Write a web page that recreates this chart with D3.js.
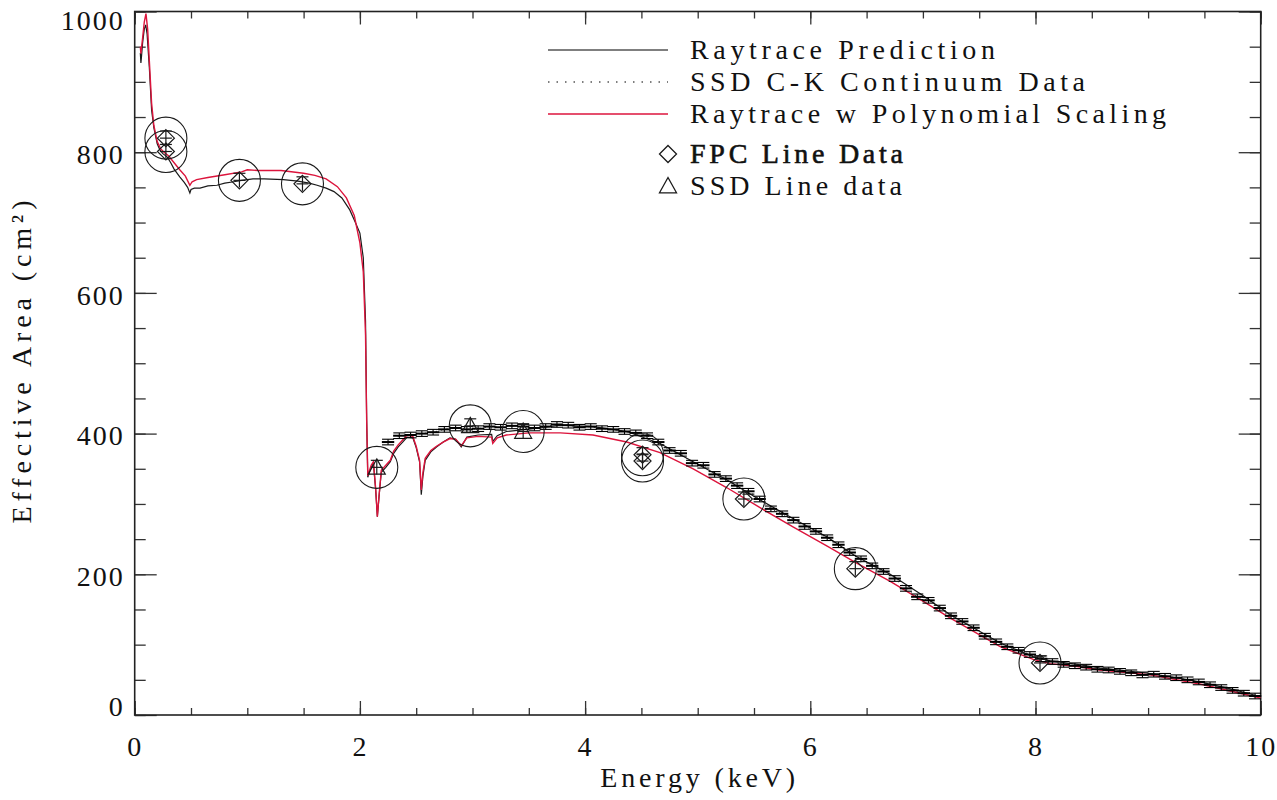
<!DOCTYPE html>
<html>
<head>
<meta charset="utf-8">
<script src="https://cdn.jsdelivr.net/npm/d3@7"></script>
<style>
  body { margin: 0; background: #fff; }
  svg { display: block; }
</style>
</head>
<body>
<div id="chart"></div>
<script>
/* Raytrace prediction (energy keV, effective area cm^2) */
const rayE = [0.05, 0.055, 0.06, 0.07, 0.085, 0.098, 0.11, 0.13, 0.15, 0.17, 0.2, 0.225, 0.25, 0.29, 0.32, 0.35, 0.4, 0.44, 0.47, 0.49,
  0.5, 0.53, 0.58, 0.65, 0.73, 0.8, 0.88, 0.95, 1.05, 1.15, 1.32, 1.45, 1.55, 1.62, 1.7, 1.77, 1.84, 1.91, 1.96, 2.0,
  2.03, 2.05, 2.06, 2.07, 2.1, 2.12, 2.14, 2.155, 2.17, 2.19, 2.23, 2.27, 2.3, 2.34, 2.38, 2.42, 2.47, 2.5, 2.53, 2.545,
  2.56, 2.58, 2.63, 2.68, 2.74, 2.8, 2.85, 2.9, 2.95, 3.05, 3.17, 3.18, 3.22, 3.3, 3.48, 3.6, 3.78, 4.07, 4.37, 4.665,
  4.96, 5.26, 5.55, 5.85, 6.15, 6.4, 6.71, 7.0, 7.24, 7.69, 7.98, 8.13, 8.37, 8.57, 9.02, 9.46, 9.76, 10.0];
const rayA = [941, 927, 935, 955, 975, 981, 968, 920, 860, 835, 812, 803, 798, 793, 785, 776, 765, 757, 750, 742,
  747, 749, 749, 752, 753, 756, 758, 760, 762, 762, 761, 759, 756, 753, 749, 744, 735, 718, 700, 685,
  650, 560, 420, 338, 352, 358, 320, 282, 310, 345, 352, 360, 372, 381, 388, 395, 394, 380, 360, 313,
  340, 362, 374, 381, 388, 394, 392, 381, 395, 398, 399, 389, 397, 403, 406, 408, 412, 410, 403, 386,
  360, 334, 306, 279, 253, 226, 200, 170, 143, 102, 83, 77, 72, 67, 59, 47, 36, 26];

/* Raytrace with polynomial scaling */
const polyE = [0.05, 0.055, 0.06, 0.07, 0.085, 0.1, 0.115, 0.13, 0.15, 0.17, 0.2, 0.23, 0.26, 0.3, 0.35, 0.4, 0.45, 0.49, 0.51, 0.55,
  0.65, 0.8, 0.95, 1.0, 1.1, 1.3, 1.5, 1.6, 1.7, 1.8, 1.88, 1.95, 2.0, 2.03, 2.05, 2.06, 2.07, 2.1, 2.12, 2.14,
  2.155, 2.17, 2.19, 2.23, 2.27, 2.3, 2.34, 2.38, 2.42, 2.47, 2.5, 2.53, 2.545, 2.56, 2.58, 2.63, 2.68, 2.74, 2.8, 2.85,
  2.9, 2.95, 3.05, 3.17, 3.18, 3.22, 3.3, 3.5, 3.78, 4.07, 4.37, 4.665, 4.96, 5.26, 5.55, 5.85, 6.15, 6.4, 6.71, 7.0,
  7.24, 7.69, 7.98, 8.13, 8.37, 8.57, 9.02, 9.46, 9.76, 10.0];
const polyA = [950, 940, 948, 962, 985, 997, 975, 930, 870, 838, 815, 805, 800, 795, 785, 775, 766, 753, 758, 761,
  764, 768, 772, 775, 774, 774, 770, 767, 762, 751, 735, 710, 671, 630, 540, 420, 340, 355, 360, 322,
  282, 312, 348, 355, 362, 375, 384, 391, 398, 396, 382, 362, 320, 345, 365, 376, 382, 388, 393, 392,
  383, 394, 396, 395, 386, 394, 398, 401, 401, 398, 388, 373, 350, 323, 295, 267, 240, 217, 190, 162,
  138, 97, 79, 73, 69, 64, 57, 44, 33, 24];

/* SSD C-K continuum data: bin centres and values */
const contE = [2.25, 2.35, 2.45, 2.55, 2.65, 2.75, 2.85, 2.95, 3.05, 3.15, 3.25, 3.35, 3.45, 3.55, 3.65, 3.75, 3.85, 3.95, 4.05, 4.15,
  4.25, 4.35, 4.45, 4.55, 4.65, 4.75, 4.85, 4.95, 5.05, 5.15, 5.25, 5.35, 5.45, 5.55, 5.65, 5.75, 5.85, 5.95, 6.05, 6.15,
  6.25, 6.35, 6.45, 6.55, 6.65, 6.75, 6.85, 6.95, 7.05, 7.15, 7.25, 7.35, 7.45, 7.55, 7.65, 7.75, 7.85, 7.95, 8.05, 8.15,
  8.25, 8.35, 8.45, 8.55, 8.65, 8.75, 8.85, 8.95, 9.05, 9.15, 9.25, 9.35, 9.45, 9.55, 9.65, 9.75, 9.85, 9.95];
const contA = [388, 397, 398, 400, 402, 406, 408, 406, 407, 410, 409, 411, 410, 408, 410, 413, 412, 409, 410, 407,
  406, 403, 401, 397, 388, 376, 372, 358, 355, 342, 336, 326, 318, 307, 293, 286, 277, 268, 261, 252,
  242, 231, 222, 212, 204, 194, 180, 168, 163, 152, 141, 133, 124, 112, 104, 97, 92, 86, 80, 76,
  72, 70, 68, 65, 64, 62, 60, 57, 58, 55, 53, 50, 47, 43, 39, 35, 31, 27];

/* FPC and SSD line measurements */
const fpcE = [0.277, 0.277, 0.93, 1.49, 4.51, 4.51, 5.41, 6.40, 8.04];
const fpcA = [820, 801, 760, 755, 370, 361, 307, 208, 74];
const ssdE = [2.15, 2.98, 3.45];
const ssdA = [352, 411, 403];

/* Axis ticks */
const xMajor = [0, 2, 4, 6, 8, 10];
const xMinor = d3.range(0, 10.01, 0.5);
const yMajor = [0, 200, 400, 600, 800, 1000];
const yMinor = d3.range(0, 1001, 50);

/* Legend entries */
const legendLines = ["Raytrace Prediction", "SSD C-K Continuum Data", "Raytrace w Polynomial Scaling"];
const legendSymbols = ["FPC Line Data", "SSD Line data"];

const width = 1277, height = 800;
const plot = { left: 134.7, right: 1260.7, top: 11.5, bottom: 715 };
const font = "'Liberation Serif', 'DejaVu Serif', serif";
const red = "#dc143c", ink = "#1a1a1a";

const svg = d3.select("#chart").append("svg")
  .attr("width", width).attr("height", height)
  .attr("viewBox", [0, 0, width, height]);

const x = d3.scaleLinear().domain([0, 10]).range([plot.left, plot.right]);
const y = d3.scaleLinear().domain([0, 1000]).range([plot.bottom, plot.top]);

/* Axes: IDL style ticks pointing inward on all four sides */
const styleAxis = g => {
  g.select(".domain").remove();
  g.selectAll(".tick line").attr("stroke", "#333").attr("stroke-width", 1.3);
  g.selectAll("text").attr("font-family", font).attr("font-size", 28)
    .attr("letter-spacing", 2).attr("fill", "#111");
};

svg.append("g").attr("transform", `translate(0,${plot.bottom})`)
  .call(d3.axisBottom(x).tickValues(xMinor).tickSize(-7).tickFormat(""))
  .call(styleAxis);
svg.append("g").attr("transform", `translate(0,${plot.bottom})`)
  .call(d3.axisBottom(x).tickValues(xMajor).tickSize(-14).tickPadding(21).tickFormat(d3.format("d")))
  .call(styleAxis);
svg.append("g").attr("transform", `translate(0,${plot.top})`)
  .call(d3.axisTop(x).tickValues(xMinor).tickSize(-7).tickFormat(""))
  .call(styleAxis);
svg.append("g").attr("transform", `translate(0,${plot.top})`)
  .call(d3.axisTop(x).tickValues(xMajor).tickSize(-13).tickFormat(""))
  .call(styleAxis);

svg.append("g").attr("transform", `translate(${plot.left},0)`)
  .call(d3.axisLeft(y).tickValues(yMinor).tickSize(-11).tickFormat(""))
  .call(styleAxis);
const yAxis = svg.append("g").attr("transform", `translate(${plot.left},0)`)
  .call(d3.axisLeft(y).tickValues(yMajor).tickSize(-22).tickPadding(10).tickFormat(d3.format("d")))
  .call(styleAxis);
/* end labels are pulled inside the frame as in the original */
yAxis.selectAll(".tick text").attr("dy", d => d === 0 ? "0.02em" : d === 1000 ? "0.66em" : "0.4em");

svg.append("g").attr("transform", `translate(${plot.right},0)`)
  .call(d3.axisRight(y).tickValues(yMinor).tickSize(-11).tickFormat(""))
  .call(styleAxis);
svg.append("g").attr("transform", `translate(${plot.right},0)`)
  .call(d3.axisRight(y).tickValues(yMajor).tickSize(-22).tickFormat(""))
  .call(styleAxis);

/* Frame */
svg.append("rect")
  .attr("x", plot.left).attr("y", plot.top)
  .attr("width", plot.right - plot.left).attr("height", plot.bottom - plot.top)
  .attr("fill", "none").attr("stroke", "#222").attr("stroke-width", 1.6);

/* Axis titles */
svg.append("text")
  .attr("x", (plot.left + plot.right) / 2).attr("y", 787)
  .attr("text-anchor", "middle")
  .attr("font-family", font).attr("font-size", 28).attr("fill", "#111")
  .attr("textLength", 195).attr("lengthAdjust", "spacing")
  .text("Energy (keV)");

svg.append("text")
  .attr("transform", "translate(31,362) rotate(-90)")
  .attr("text-anchor", "middle")
  .attr("font-family", font).attr("font-size", 28).attr("fill", "#111")
  .attr("textLength", 323).attr("lengthAdjust", "spacing")
  .text("Effective Area  (cm²)");

/* Curves */
const line = d3.line().x(d => x(d[0])).y(d => y(d[1]));
const plotArea = svg.append("g");

const contPts = d3.zip(contE, contA);
plotArea.append("path")
  .attr("d", line(contPts))
  .attr("fill", "none").attr("stroke", "#444").attr("stroke-width", 1)
  .attr("stroke-dasharray", "1.5,4");

plotArea.append("path")
  .attr("d", line(d3.zip(rayE, rayA)))
  .attr("fill", "none").attr("stroke", ink).attr("stroke-width", 1.2);

plotArea.append("path")
  .attr("d", line(d3.zip(polyE, polyA)))
  .attr("fill", "none").attr("stroke", red).attr("stroke-width", 1.4);

/* Continuum error bars: bin width bar plus short vertical error with wide caps */
const binHalf = 0.055, contErr = 4, cap = 6;
const bars = plotArea.append("g").attr("stroke", "#000");
bars.selectAll("g").data(contPts).join("g").each(function (d) {
  const g = d3.select(this);
  const cx = x(d[0]), cy = y(d[1]);
  g.append("line").attr("x1", x(d[0] - binHalf)).attr("x2", x(d[0] + binHalf)).attr("y1", cy).attr("y2", cy)
    .attr("stroke-width", 2);
  g.append("line").attr("x1", cx).attr("x2", cx).attr("y1", y(d[1] + contErr)).attr("y2", y(d[1] - contErr))
    .attr("stroke-width", 1.1);
  g.append("line").attr("x1", cx - cap).attr("x2", cx + cap).attr("y1", y(d[1] + contErr)).attr("y2", y(d[1] + contErr))
    .attr("stroke-width", 1.1);
  g.append("line").attr("x1", cx - cap).attr("x2", cx + cap).attr("y1", y(d[1] - contErr)).attr("y2", y(d[1] - contErr))
    .attr("stroke-width", 1.1);
});

/* Line data symbols */
const diamond = (cx, cy, r) => `M${cx},${cy - r}L${cx + r},${cy}L${cx},${cy + r}L${cx - r},${cy}Z`;
const triangle = (cx, cy, r) => `M${cx},${cy - r}L${cx + r},${cy + r * 0.8}L${cx - r},${cy + r * 0.8}Z`;
const lineErr = 10, circleR = 21;

const drawPoint = (g, e, a, shape) => {
  const cx = x(e), cy = y(a);
  g.append("circle").attr("cx", cx).attr("cy", cy).attr("r", circleR)
    .attr("fill", "none").attr("stroke", ink).attr("stroke-width", 1.1);
  g.append("path").attr("d", shape(cx, cy, 8.5))
    .attr("fill", "none").attr("stroke", ink).attr("stroke-width", 1.2);
  g.append("line").attr("x1", cx).attr("x2", cx).attr("y1", y(a + lineErr)).attr("y2", y(a - lineErr))
    .attr("stroke", ink).attr("stroke-width", 1.2);
  g.append("line").attr("x1", cx - 6).attr("x2", cx + 6).attr("y1", y(a + lineErr)).attr("y2", y(a + lineErr))
    .attr("stroke", ink).attr("stroke-width", 1.2);
  g.append("line").attr("x1", cx - 6).attr("x2", cx + 6).attr("y1", cy).attr("y2", cy)
    .attr("stroke", ink).attr("stroke-width", 1.2);
};

const pts = plotArea.append("g");
fpcE.forEach((e, i) => drawPoint(pts, e, fpcA[i], diamond));
ssdE.forEach((e, i) => drawPoint(pts, e, ssdA[i], triangle));

/* Legend */
const legend = svg.append("g");
const legendX1 = 548, legendX2 = 668, textX = 690;
const lineRows = [50, 82, 114];
const lineStyles = [
  { stroke: "#555", dash: null, w: 1.3 },
  { stroke: "#555", dash: "1.5,7", w: 1.3 },
  { stroke: red, dash: null, w: 1.4 }
];
const lineWidths = [305, 395, 476];
legendLines.forEach((label, i) => {
  legend.append("line")
    .attr("x1", legendX1).attr("x2", legendX2).attr("y1", lineRows[i]).attr("y2", lineRows[i])
    .attr("stroke", lineStyles[i].stroke).attr("stroke-width", lineStyles[i].w)
    .attr("stroke-dasharray", lineStyles[i].dash);
  legend.append("text")
    .attr("x", textX).attr("y", lineRows[i] + 9)
    .attr("font-family", font).attr("font-size", 28).attr("fill", "#111")
    .attr("textLength", lineWidths[i]).attr("lengthAdjust", "spacing")
    .text(label);
});

const symRows = [154, 186];
const symShapes = [diamond, triangle];
const symWidths = [213, 212];
legendSymbols.forEach((label, i) => {
  legend.append("path").attr("d", symShapes[i](legendX2, symRows[i], 8.5))
    .attr("fill", "none").attr("stroke", ink).attr("stroke-width", 1.3);
  legend.append("text")
    .attr("x", textX).attr("y", symRows[i] + 9)
    .attr("font-family", font).attr("font-size", 28).attr("fill", "#111")
    .attr("stroke", i === 0 ? "#111" : "none").attr("stroke-width", 0.6)
    .attr("textLength", symWidths[i]).attr("lengthAdjust", "spacing")
    .text(label);
});
</script>
</body>
</html>
